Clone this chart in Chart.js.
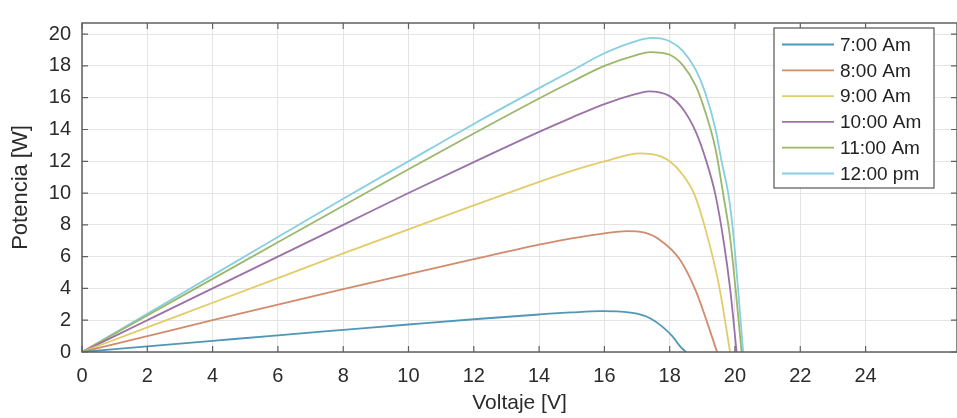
<!DOCTYPE html>
<html lang="es">
<head>
<meta charset="UTF-8">
<title>Potencia vs Voltaje</title>
<script src="https://cdn.jsdelivr.net/npm/chart.js"></script>
<style>
  html, body { margin: 0; padding: 0; background: #fff; }
  #wrap { width: 957px; height: 418px; }
</style>
</head>
<body>
<div id="wrap"><canvas id="pvChart" width="957" height="418"></canvas></div>
<script>
// curve values: voltage [V] and power [W]
const labels = ['7:00 Am', '8:00 Am', '9:00 Am', '10:00 Am', '11:00 Am', '12:00 pm'];
const colors = ['#4f97b8', '#d08c6c', '#e3cb6a', '#9a72a8', '#9bb86a', '#86cfe0'];

const v7 = [0, 2, 4, 6, 8, 10, 12, 14, 15, 15.9, 16.5, 17, 17.4, 17.8, 18.1, 18.3, 18.5];
const p7 = [0, 0.35, 0.7, 1.05, 1.39, 1.73, 2.06, 2.36, 2.49, 2.57, 2.54, 2.41, 2.12, 1.55, 0.95, 0.4, 0];

const v8 = [0, 2, 4, 6, 8, 10, 12, 14, 15, 16, 16.7, 17.2, 17.7, 18.3, 18.8, 19.15, 19.45];
const p8 = [0, 1.0, 2.0, 2.98, 3.95, 4.9, 5.84, 6.75, 7.15, 7.47, 7.6, 7.52, 7.05, 5.85, 3.85, 1.85, 0];

const v9 = [0, 2, 4, 6, 8, 10, 12, 14, 15, 16, 17.1, 17.6, 18, 18.4, 18.75, 19.1, 19.5, 19.85];
const p9 = [0, 1.55, 3.1, 4.65, 6.2, 7.72, 9.22, 10.7, 11.4, 12.0, 12.5, 12.38, 12.0, 11.15, 9.95, 7.7, 4.3, 0];

const v10 = [0, 2, 4, 6, 8, 10, 12, 14, 15, 16, 17, 17.35, 18, 18.4, 18.8, 19.1, 19.4, 19.65, 19.85, 20.05];
const p10 = [0, 2.0, 4.0, 6.0, 8.0, 10.0, 11.95, 13.85, 14.75, 15.6, 16.25, 16.4, 16.1, 15.3, 13.85, 12.15, 9.9, 7.0, 4.0, 0];

const v11 = [0, 2, 4, 6, 8, 10, 12, 14, 15, 16, 17, 17.4, 18, 18.4, 18.8, 19.1, 19.4, 19.65, 19.85, 20.05, 20.2];
const p11 = [0, 2.3, 4.6, 6.9, 9.2, 11.5, 13.75, 15.95, 17.0, 18.0, 18.7, 18.87, 18.7, 18.05, 16.75, 15.05, 12.8, 9.8, 7.2, 3.3, 0];

const v12 = [0, 2, 4, 6, 8, 10, 12, 14, 15, 16, 17, 17.45, 18, 18.4, 18.8, 19.1, 19.4, 19.6, 19.8, 19.95, 20.1, 20.25];
const p12 = [0, 2.4, 4.82, 7.23, 9.64, 12.0, 14.35, 16.6, 17.7, 18.8, 19.58, 19.76, 19.55, 18.95, 17.75, 16.25, 14.05, 11.9, 9.9, 7.4, 3.8, 0];

const xTicks = [0, 2, 4, 6, 8, 10, 12, 14, 16, 18, 20, 22, 24];
const yTicks = [0, 2, 4, 6, 8, 10, 12, 14, 16, 18, 20];

const volts = [v7, v8, v9, v10, v11, v12];
const watts = [p7, p8, p9, p10, p11, p12];

const FONT = '"Liberation Sans", Arial, sans-serif';
const AXIS = '#606060';

// frame round the plot with inward ticks on all four sides
const framePlugin = {
    id: 'frame',
    afterDraw(chart) {
        const { ctx, chartArea: a, scales } = chart;
        ctx.save();
        ctx.strokeStyle = AXIS;
        ctx.lineWidth = 1.5;
        ctx.strokeRect(a.left, a.top, a.right - a.left, a.bottom - a.top);
        ctx.lineWidth = 1.2;
        ctx.beginPath();
        xTicks.forEach(t => {
            const x = scales.x.getPixelForValue(t);
            ctx.moveTo(x, a.bottom); ctx.lineTo(x, a.bottom - 6);
            ctx.moveTo(x, a.top); ctx.lineTo(x, a.top + 6);
        });
        yTicks.forEach(t => {
            const y = scales.y.getPixelForValue(t);
            ctx.moveTo(a.left, y); ctx.lineTo(a.left + 6, y);
            ctx.moveTo(a.right, y); ctx.lineTo(a.right - 6, y);
        });
        ctx.stroke();
        ctx.restore();
    }
};

// boxed legend in the upper right, like the original figure
const legendBox = {
    id: 'legendBox',
    afterDraw(chart) {
        const ctx = chart.ctx;
        const bx = 774, by = 28, bw = 160, bh = 160;
        ctx.save();
        ctx.fillStyle = '#fff';
        ctx.fillRect(bx, by, bw, bh);
        ctx.strokeStyle = '#555';
        ctx.lineWidth = 1.2;
        ctx.strokeRect(bx, by, bw, bh);
        ctx.font = '19px ' + FONT;
        ctx.textBaseline = 'middle';
        chart.data.datasets.forEach((ds, i) => {
            const y = by + 16.5 + i * 25.8;
            ctx.strokeStyle = ds.borderColor;
            ctx.lineWidth = 1.8;
            ctx.beginPath();
            ctx.moveTo(782, y); ctx.lineTo(834, y);
            ctx.stroke();
            ctx.fillStyle = '#222';
            ctx.fillText(ds.label, 840, y + 1);
        });
        ctx.restore();
    }
};

const datasets = labels.map((lab, i) => ({
    label: lab,
    data: volts[i].map((v, k) => ({ x: v, y: watts[i][k] })),
    borderColor: colors[i],
    borderWidth: 1.8,
    pointRadius: 0,
    fill: false,
    cubicInterpolationMode: 'monotone'
}));

new Chart(document.getElementById('pvChart').getContext('2d'), {
    type: 'line',
    data: { datasets: datasets },
    options: {
        responsive: false,
        animation: false,
        layout: { padding: { top: 8, right: 0, left: 0, bottom: 0 } },
        plugins: { legend: { display: false }, tooltip: { enabled: false } },
        scales: {
            x: {
                type: 'linear',
                min: 0,
                max: 26.8,
                afterBuildTicks: s => { s.ticks = xTicks.map(v => ({ value: v })); },
                afterFit: s => { s.height = 66; },
                grid: { color: '#e4e4e4', lineWidth: 1, drawTicks: false },
                border: { display: false },
                ticks: { padding: 12, color: '#2b2b2b', font: { family: FONT, size: 20 }, maxRotation: 0 },
                title: { display: true, text: 'Voltaje [V]', color: '#2b2b2b',
                         font: { family: FONT, size: 21 }, padding: { top: 0, bottom: 2 } }
            },
            y: {
                min: 0,
                max: 20.7,
                afterBuildTicks: s => { s.ticks = yTicks.map(v => ({ value: v })); },
                afterFit: s => { s.width = 82; },
                grid: { color: '#e4e4e4', lineWidth: 1, drawTicks: false },
                border: { display: false },
                ticks: { padding: 11, color: '#2b2b2b', font: { family: FONT, size: 20 } },
                title: { display: true, text: 'Potencia [W]', color: '#2b2b2b',
                         font: { family: FONT, size: 22 }, padding: { top: 8, bottom: 0 } }
            }
        }
    },
    plugins: [framePlugin, legendBox]
});
</script>
</body>
</html>
